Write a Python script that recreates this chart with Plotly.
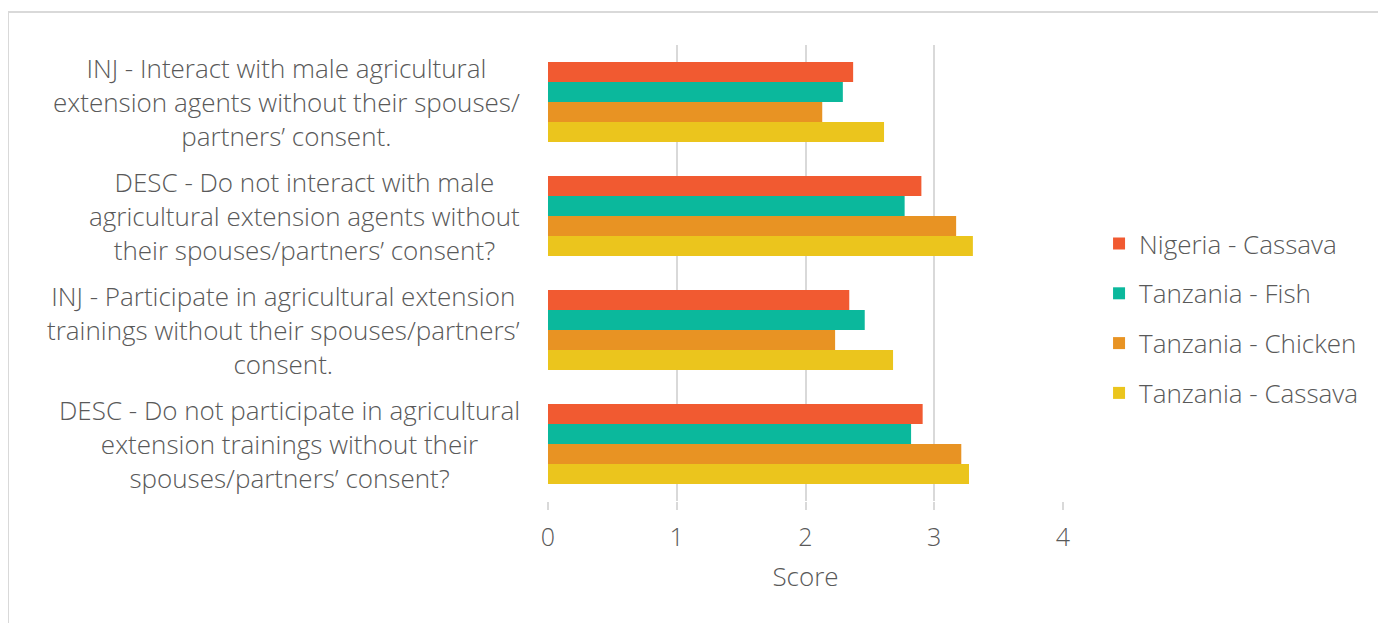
import plotly.graph_objects as go

categories = [
    "INJ - Interact with male agricultural<br>extension agents without their spouses/<br>partners’ consent.",
    "DESC - Do not interact with male<br>agricultural extension agents without<br>their spouses/partners’ consent?",
    "INJ - Participate in agricultural extension<br>trainings without their spouses/partners’<br>consent.",
    "DESC - Do not participate in agricultural<br>extension trainings without their<br>spouses/partners’ consent?",
]
series_names = ["Nigeria - Cassava", "Tanzania - Fish", "Tanzania - Chicken", "Tanzania - Cassava"]
nigeria_cassava = [2.37, 2.90, 2.34, 2.91]
tanzania_fish = [2.29, 2.77, 2.46, 2.82]
tanzania_chicken = [2.13, 3.17, 2.23, 3.21]
tanzania_cassava = [2.61, 3.30, 2.68, 3.27]
values = [nigeria_cassava, tanzania_fish, tanzania_chicken, tanzania_cassava]
colors = ["#F15A31", "#0BB89C", "#E89323", "#EBC51D"]
x_ticks = [0, 1, 2, 3, 4]

FONT = "Open Sans"
TXT = "#595959"

ML, MT, PW, PH = 540, 37, 515, 456

fig = go.Figure()
for name, vals, c in zip(series_names, values, colors):
    fig.add_trace(go.Bar(y=categories, x=vals, name=name, orientation="h",
                         marker=dict(color=c, line=dict(width=0)),
                         legendgroup=name))

for cat in categories:
    fig.add_annotation(x=-26 / PW, xref="paper", y=cat, yref="y", text=cat,
                       showarrow=False, xanchor="right", yanchor="middle",
                       align="center", font=dict(family=FONT, size=26, color=TXT, weight=300))

# outer chart border
fig.add_shape(type="rect", xref="paper", yref="paper",
              x0=(0 - ML) / PW, x1=(1400 - ML) / PW,
              y0=(MT + PH - 640) / PH, y1=(MT + PH - 4) / PH,
              line=dict(color="#d9d9d9", width=2), fillcolor="rgba(0,0,0,0)", layer="below")

fig.update_layout(
    width=1386, height=623,
    margin=dict(l=ML, r=1386 - ML - PW, t=MT, b=623 - MT - PH),
    paper_bgcolor="white", plot_bgcolor="white",
    barmode="group", bargap=0.3, bargroupgap=0,
    font=dict(family=FONT, size=24, color=TXT, weight=300),
    showlegend=True,
    legend=dict(x=1.07, xanchor="left", y=0.40, yanchor="middle",
                font=dict(family=FONT, size=26, color=TXT, weight=300),
                tracegroupgap=13, itemwidth=30),
    xaxis=dict(range=[0, 4], tickvals=x_ticks, showgrid=True, gridcolor="#d9d9d9",
               gridwidth=2, zeroline=False, showline=False,
               ticks="outside", ticklen=8, tickcolor="#d9d9d9", tickwidth=2,
               ticklabelstandoff=6,
               tickfont=dict(family=FONT, size=25, color=TXT, weight=300),
               title=dict(text="Score", font=dict(family=FONT, size=26, color=TXT, weight=300), standoff=15)),
    yaxis=dict(autorange="reversed", showticklabels=False, showgrid=False,
               zeroline=False, showline=False, ticks=""),
)

fig.write_html("out.html")
